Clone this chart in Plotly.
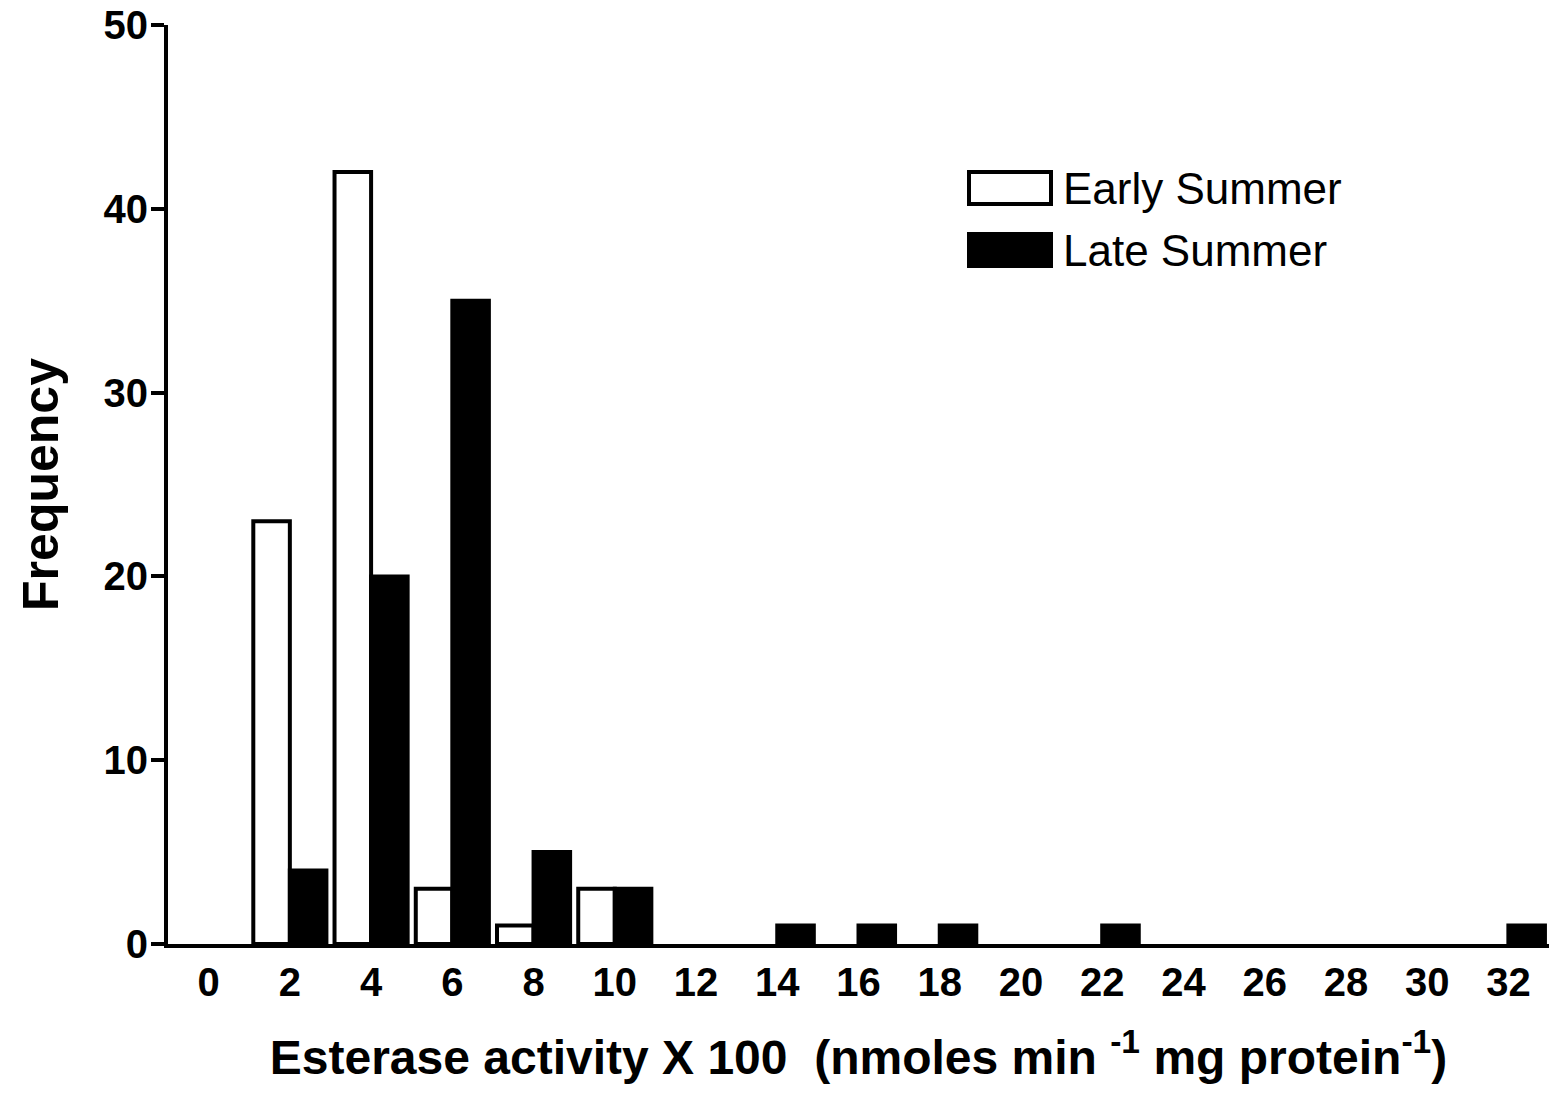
import plotly.graph_objects as go

categories = ["0", "2", "4", "6", "8", "10", "12", "14", "16", "18", "20", "22", "24", "26", "28", "30", "32"]
early_summer = [0, 23, 42, 3, 1, 3, 0, 0, 0, 0, 0, 0, 0, 0, 0, 0, 0]
late_summer = [0, 4, 20, 35, 5, 3, 0, 1, 1, 1, 0, 1, 0, 0, 0, 0, 1]
y_ticks = [0, 10, 20, 30, 40, 50]
series_names = ["Early Summer", "Late Summer"]

W, H = 1550, 1097
L, R, T, B = 168, 1, 25, 153
FONT = "Liberation Sans, Arial, sans-serif"

def outline_widths(vals):
    return [4 if v > 0 else 0 for v in vals]

fig = go.Figure()
fig.add_trace(go.Bar(x=categories, y=early_summer, name=series_names[0],
                     marker=dict(color="white", line=dict(color="black", width=outline_widths(early_summer))),
                     showlegend=False))
fig.add_trace(go.Bar(x=categories, y=late_summer, name=series_names[1],
                     marker=dict(color="black", line=dict(color="black", width=outline_widths(late_summer))),
                     showlegend=False))

pw, ph = W - L - R, H - T - B
def px(xp): return (xp - L) / pw
def py(yp): return (H - B - yp) / ph

# custom legend (swatches + labels)
legend_rows = [(series_names[0], "white", 188), (series_names[1], "black", 250)]
for name, fill, cy in legend_rows:
    fig.add_shape(type="rect", xref="paper", yref="paper",
                  x0=px(969), x1=px(1051), y0=py(cy - 16), y1=py(cy + 16),
                  fillcolor=fill, line=dict(color="black", width=4))
    fig.add_annotation(xref="paper", yref="paper", x=px(1061), y=py(cy),
                       xanchor="left", yanchor="middle", showarrow=False,
                       text=name, font=dict(family=FONT, size=44, color="black"))

fig.update_layout(
    width=W, height=H,
    margin=dict(l=L, r=R, t=T, b=B, pad=0),
    plot_bgcolor="white", paper_bgcolor="white",
    barmode="group", bargap=0.1, bargroupgap=0,
    font=dict(family=FONT, color="black"),
)
fig.update_xaxes(
    type="category", range=[-0.5, len(categories) - 0.5],
    showline=True, linecolor="black", linewidth=4,
    showgrid=False, zeroline=False, ticks="",
    tickfont=dict(family=FONT, size=40, color="black", weight="bold"),
    title=dict(text="Esterase activity X 100  (nmoles min <sup>-1</sup> mg protein<sup>-1</sup>)",
               font=dict(family=FONT, size=48, color="black", weight="bold"), standoff=38),
)
fig.update_yaxes(
    range=[0, 50], tickvals=y_ticks,
    showline=True, linecolor="black", linewidth=4,
    showgrid=False, zeroline=False,
    ticks="outside", ticklen=13, tickwidth=4, tickcolor="black",
    ticklabelstandoff=-5,
    tickfont=dict(family=FONT, size=40, color="black", weight="bold"),
    title=dict(text="Frequency", font=dict(family=FONT, size=50, color="black", weight="bold"), standoff=30),
)

fig.write_html("out.html", config={"displayModeBar": False},
               post_script="document.body.style.margin='0';document.body.style.overflow='hidden';")
